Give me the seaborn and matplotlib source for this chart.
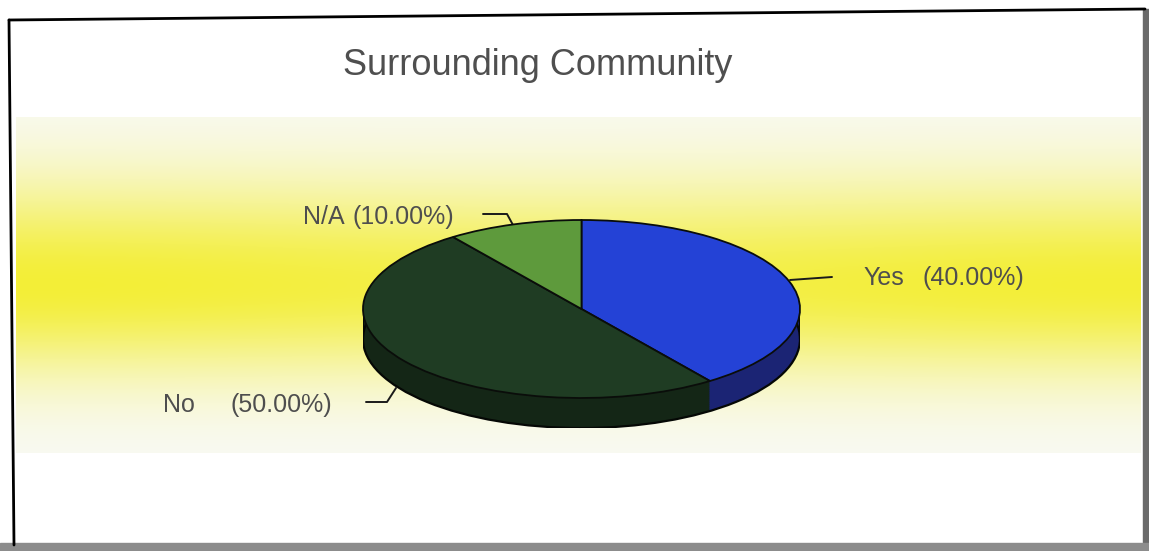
import numpy as np
import matplotlib
matplotlib.use("Agg")
import matplotlib.pyplot as plt
import seaborn as sns
from matplotlib.patches import Ellipse, Rectangle

# ---- data ----
categories = ["Yes", "No", "N/A"]
shares = [40.0, 50.0, 10.0]
top_colors = ["#2442d6", "#1f3c23", "#5e9a3c"]
side_colors = ["#1b2474", "#142616", "#2e4c1f"]
title = "Surrounding Community"

sns.set_theme(style="white")
plt.rcParams["font.family"] = ["Liberation Sans", "DejaVu Sans"]

W, H = 1149, 551
fig = plt.figure(figsize=(W / 100, H / 100), dpi=100)
fig.patch.set_facecolor("white")

# background canvas in pixel units (y grows downward)
bg = fig.add_axes([0, 0, 1, 1])
bg.set_xlim(0, W)
bg.set_ylim(H, 0)
bg.axis("off")

# soft yellow band behind the pie
band_top, band_bottom, band_peak = 117, 453, 285
ys = np.arange(band_top, band_bottom + 1, dtype=float)
xs = np.linspace(0, 1, 60)
sig = np.where(ys < band_peak, 82.0, 72.0)
v = np.exp(-((ys - band_peak) ** 2) / (2 * sig ** 2)) ** 1.3
hx = 1.0 - 0.1 * np.sin(np.pi * xs) ** 2
inten = v[:, None] * hx[None, :]
base = np.array([249, 250, 246]) / 255.0
peak = np.array([243, 238, 55]) / 255.0
img = base[None, None, :] + inten[:, :, None] * (peak - base)[None, None, :]
bg.imshow(img, extent=[16, 1141, band_bottom, band_top], aspect="auto",
          interpolation="bilinear", zorder=0)

# frame
bg.plot([9, 1145], [20, 9], color="black", lw=2.0, zorder=5)
bg.plot([9, 14], [20, 545], color="black", lw=2.0, zorder=5)
bg.add_patch(Rectangle((1143, 9), 6, 536, color="#6a6a6a", zorder=4))
bg.add_patch(Rectangle((0, 543), W, 8, color="#8c8c8c", zorder=4))

# title
bg.text(538, 75, title, ha="center", va="baseline", fontsize=26,
        color="#4f4f4f", zorder=6)

# ---- 3D-looking pie ----
px0, px1 = 363, 800
py_top, py_face_bottom, py_bottom = 220, 398, 428
ry_px = (py_face_bottom - py_top) / 2
depth = (py_bottom - py_face_bottom) / ry_px

pax = fig.add_axes([px0 / W, 1 - py_bottom / H, (px1 - px0) / W,
                    (py_bottom - py_top) / H])
pax.patch.set_alpha(0)

for d in np.linspace(depth, 0, 45):
    pax.pie(shares, colors=side_colors, startangle=90, counterclock=False,
            center=(0, -d), radius=1, wedgeprops=dict(linewidth=0))
pax.add_patch(Ellipse((0, -depth), 2, 2, fill=False, edgecolor="#050805",
                      lw=1.6, zorder=3))
pax.plot([-1, -1], [0, -depth], color="#050805", lw=1.6, zorder=3)
pax.plot([1, 1], [0, -depth], color="#050805", lw=1.6, zorder=3)
wedges, _ = pax.pie(shares, colors=top_colors, startangle=90,
                    counterclock=False, center=(0, 0), radius=1,
                    wedgeprops=dict(linewidth=1.3, edgecolor="#0a0d0a"))
for w in wedges:
    w.set_zorder(4)
pax.set_aspect("auto")
pax.set_xlim(-1, 1)
pax.set_ylim(-1 - depth, 1)
pax.axis("off")

# ---- labels with leader lines ----
total = sum(shares)
pct = {c: s / total * 100 for c, s in zip(categories, shares)}
label_color = "#4e4e4e"
label_layout = {
    # name x, percent x, text y, leader polyline
    "Yes": (863, 922, 278, [(790, 280), (832, 277)]),
    "No": (163, 230, 405, [(366, 402), (387, 402), (396, 388)]),
    "N/A": (303, 353, 217, [(483, 214), (507, 214), (513, 225)]),
}
for c in categories:
    nx, ppx, ty, line = label_layout[c]
    bg.text(nx, ty, c, ha="left", va="center", fontsize=18,
            color=label_color, zorder=6)
    bg.text(ppx, ty, f"({pct[c]:.2f}%)", ha="left", va="center",
            fontsize=18, color=label_color, zorder=6)
    lx, ly = zip(*line)
    bg.plot(lx, ly, color="#1a1a1a", lw=1.4, zorder=6)

fig.savefig("out.png", dpi=100, facecolor="white")
